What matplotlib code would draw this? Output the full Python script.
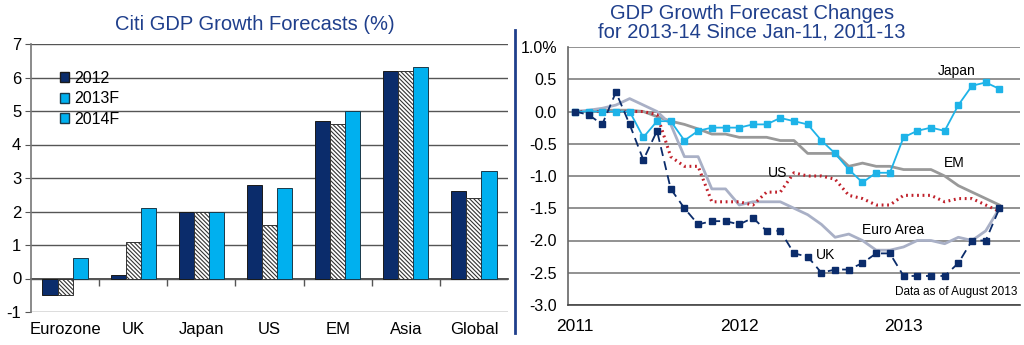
import numpy as np
import matplotlib
matplotlib.use("Agg")
import matplotlib.pyplot as plt
from matplotlib.patches import Patch

plt.rcParams['font.family'] = ['Liberation Sans', 'DejaVu Sans']
plt.rcParams['hatch.linewidth'] = 0.8
plt.rcParams['axes.unicode_minus'] = False

# bar chart data
regions = ['Eurozone', 'UK', 'Japan', 'US', 'EM', 'Asia', 'Global']
gdp_2012 = [-0.5, 0.1, 2.0, 2.8, 4.7, 6.2, 2.6]
gdp_2013f = [-0.5, 1.1, 2.0, 1.6, 4.6, 6.2, 2.4]
gdp_2014f = [0.6, 2.1, 2.0, 2.7, 5.0, 6.3, 3.2]
bar_labels = ['2012', '2013F', '2014F']

# forecast changes, monthly Jan-2011 .. Aug-2013
year_labels = ['2011', '2012', '2013']
japan = [0, 0, 0, 0, 0, -0.4, -0.15, -0.15, -0.45, -0.3, -0.25, -0.25, -0.25, -0.2, -0.2, -0.1,
         -0.15, -0.2, -0.45, -0.65, -0.9, -1.1, -0.95, -0.95, -0.4, -0.3, -0.25, -0.3, 0.1, 0.4, 0.45, 0.35]
uk = [0, -0.05, -0.2, 0.3, -0.2, -0.75, -0.3, -1.2, -1.5, -1.75, -1.7, -1.7, -1.75, -1.65, -1.85, -1.85,
      -2.2, -2.25, -2.5, -2.45, -2.45, -2.35, -2.2, -2.2, -2.55, -2.55, -2.55, -2.55, -2.35, -2.0, -2.0, -1.5]
em = [0, 0, 0.02, 0.02, 0.02, 0.0, -0.08, -0.15, -0.2, -0.27, -0.35, -0.35, -0.4, -0.4, -0.4, -0.45,
      -0.45, -0.65, -0.65, -0.65, -0.85, -0.8, -0.85, -0.85, -0.9, -0.9, -0.9, -1.0, -1.15, -1.25, -1.35, -1.45]
euro = [0, 0.02, 0.05, 0.1, 0.2, 0.1, 0.0, -0.2, -0.7, -0.7, -1.2, -1.2, -1.45, -1.4, -1.4, -1.4,
        -1.5, -1.6, -1.75, -1.95, -1.9, -2.0, -2.15, -2.15, -2.1, -2.0, -2.0, -2.05, -1.95, -2.0, -1.85, -1.5]
us = [0, 0, 0, 0, 0, 0, -0.05, -0.7, -0.85, -0.85, -1.4, -1.4, -1.4, -1.45, -1.25, -1.25,
      -0.95, -1.0, -1.0, -1.05, -1.3, -1.35, -1.45, -1.45, -1.3, -1.3, -1.3, -1.4, -1.35, -1.35, -1.45, -1.55]

navy = '#0b2c6b'
cyan = '#00b0ef'
title_blue = '#1f3f8c'

fig = plt.figure(figsize=(10.24, 3.45), dpi=100)

# ---- left: bar chart
ax1 = fig.add_axes([31 / 1024, 1 - 312 / 345, 477 / 1024, 268 / 345])
x = np.arange(len(regions))
w = 0.222
ax1.bar(x - w, gdp_2012, w, color=navy, edgecolor='#1a1a1a', linewidth=0.7, zorder=3)
ax1.bar(x, gdp_2013f, w, color='white', edgecolor='#333333', hatch='\\' * 8, linewidth=0.7, zorder=3)
ax1.bar(x + w, gdp_2014f, w, color=cyan, edgecolor='#1a3a4a', linewidth=0.7, zorder=3)

ax1.set_xlim(-0.5, len(regions) - 0.5)
ax1.set_ylim(-1, 7)
ax1.set_yticks(range(-1, 8))
ax1.grid(axis='y', color='#555555', linewidth=1.0, zorder=0)
ax1.set_axisbelow(True)
for s in ['top', 'right', 'bottom']:
    ax1.spines[s].set_visible(False)
ax1.spines['left'].set_color('#777777')
ax1.spines['left'].set_linewidth(1.2)
ax1.tick_params(axis='y', length=4, color='#555555', labelsize=12, pad=3)
ax1.set_xticks(x)
ax1.set_xticklabels(regions, fontsize=12)
ax1.tick_params(axis='x', length=0, pad=7)

# zero line with category dividers
sec = ax1.secondary_xaxis(1 / 8)
sec.set_xticks(x[:-1] + 0.5)
sec.set_xticklabels([])
sec.tick_params(length=5, color='#555555', width=1)
sec.spines['bottom'].set_color('#333333')
sec.spines['bottom'].set_linewidth(1.2)

handles = [Patch(facecolor=navy, edgecolor='#1a1a1a'),
           Patch(facecolor=cyan, edgecolor='#1a3a4a'),
           Patch(facecolor=cyan, edgecolor='#1a3a4a')]
ax1.legend(handles, bar_labels, loc='upper left', bbox_to_anchor=(0.06, 0.9), frameon=False,
           fontsize=11.5, handlelength=0.6, handleheight=0.6, handletextpad=0.3,
           labelspacing=0.35, borderpad=0, borderaxespad=0)

fig.text(255 / 1024, 1 - 25 / 345, 'Citi GDP Growth Forecasts (%)', ha='center', va='center',
         fontsize=14.5, color=title_blue)

# ---- right: line chart
ax2 = fig.add_axes([568 / 1024, 1 - 305 / 345, 452 / 1024, 258 / 345])
m = np.arange(len(japan))
ax2.plot(m, em, color='#999999', linewidth=2, zorder=3)
ax2.plot(m, euro, color='#a9b0c6', linewidth=2, zorder=3)
ax2.plot(m, us, color='#c0202a', linewidth=2.2, linestyle=(0, (0.6, 1.2)), zorder=4)
ax2.plot(m, japan, color='#1eb3e8', linewidth=1.3, marker='s', markersize=4, zorder=5)
ax2.plot(m, uk, color=navy, linewidth=1.3, linestyle=(0, (5, 3)), marker='s', markersize=4, zorder=6)

ax2.set_xlim(-0.5, 32.5)
ax2.set_ylim(-3, 1)
yt = np.arange(-3, 1.01, 0.5)
ax2.set_yticks(yt)
ax2.set_yticklabels(['%.1f%%' % v if v == 1 else '%.1f' % v for v in yt])
ax2.set_xticks(np.arange(len(year_labels)) * 12)
ax2.set_xticklabels(year_labels, fontsize=12.5)
ax2.tick_params(axis='both', length=0)
ax2.tick_params(axis='y', labelsize=11.5, pad=8)
ax2.tick_params(axis='x', pad=10)
ax2.grid(axis='y', color='#7f7f7f', linewidth=1.2, zorder=0)
for s in ['top', 'right']:
    ax2.spines[s].set_visible(False)
ax2.spines['left'].set_color('#666666')
ax2.spines['left'].set_linewidth(1.2)
ax2.spines['bottom'].set_color('#444444')
ax2.spines['bottom'].set_linewidth(1.2)

ax2.text(27.9, 0.63, 'Japan', fontsize=10, ha='center', va='center')
ax2.text(27.7, -0.8, 'EM', fontsize=10, ha='center', va='center')
ax2.text(14.8, -0.95, 'US', fontsize=10, ha='center', va='center')
ax2.text(23.2, -1.83, 'Euro Area', fontsize=10, ha='center', va='center')
ax2.text(18.3, -2.22, 'UK', fontsize=10, ha='center', va='center')
ax2.text(32.3, -2.8, 'Data as of August 2013', fontsize=8.5, ha='right', va='center')

fig.text(752 / 1024, 1 - 23 / 345, 'GDP Growth Forecast Changes\nfor 2013-14 Since Jan-11, 2011-13',
         ha='center', va='center', fontsize=14.5, color=title_blue, linespacing=0.95)

# separator
fig.add_artist(plt.Line2D([515 / 1024, 515 / 1024], [1 - 333 / 345, 1 - 30 / 345],
                          color=title_blue, linewidth=2))

fig.savefig('out.png', dpi=100)
